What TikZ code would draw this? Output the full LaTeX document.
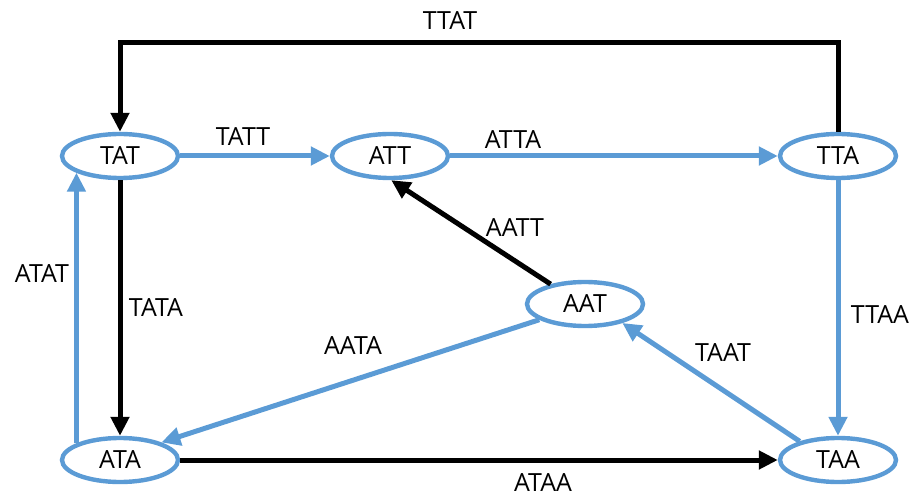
\documentclass[tikz,border=0pt]{standalone}
\usepackage{fontspec}
\setmainfont{Open Sans}
\usetikzlibrary{arrows.meta,shapes.geometric}
\definecolor{stateblue}{HTML}{5B9BD5}
\tikzset{
  state/.style={ellipse,draw=stateblue,line width=2.2pt,fill=white,
    minimum width=58pt,minimum height=22pt,inner sep=0pt,
    font=\fontsize{12.5}{15}\selectfont},
  edge/.style={line width=2.5pt,-{Triangle[length=9.5pt,width=9pt]}},
  bedge/.style={edge,draw=stateblue},
  kedge/.style={edge,draw=black},
  lbl/.style={inner sep=0pt,font=\fontsize{12.5}{15}\selectfont}
}

\begin{document}
\begin{tikzpicture}[x=0.5pt,y=-0.5pt]
                \useasboundingbox (0,0) rectangle (909,496);
                % states
                \node [state] (TAT) at (120,156) {TAT};
                \node [state] (ATT) at (390,156) {ATT};
                \node [state] (TTA) at (838,156) {TTA};
                \node [state] (AAT) at (585,304) {AAT};
                \node [state] (ATA) at (120,460) {ATA};
                \node [state] (TAA) at (838,460) {TAA};
                \coordinate (top) at (0,43);
                % transitions
                \draw [kedge] (TTA.north) -- (TTA.north |- top) -| (TAT.north);
                \draw [bedge] (TAT) -- (ATT);
                \draw [bedge] (ATT) -- (TTA);
                \draw [kedge] (TAT) -- (ATA);
                \draw [bedge] (ATA.159) -- (TAT.201);
                \draw [bedge] (TTA) -- (TAA);
                \draw [kedge] (ATA) -- (TAA);
                \draw [kedge] (AAT.150) -- (ATT.-87);
                \draw [bedge] (AAT.199) -- (ATA.23);
                \draw [bedge] (TAA.154) -- (AAT.-27);
                % edge labels
                \node [lbl] (lTTAT) at (450,21) {TTAT};
                \node [lbl] (lTATT) at (243,137) {TATT};
                \node [lbl] (lATTA) at (513,140) {ATTA};
                \node [lbl] (lATAT) at (42,274) {ATAT};
                \node [lbl] (lTATA) at (156,308) {TATA};
                \node [lbl] (lAATT) at (515,228) {AATT};
                \node [lbl] (lAATA) at (353,346) {AATA};
                \node [lbl] (lTAAT) at (723,353) {TAAT};
                \node [lbl] (lTTAA) at (880,315) {TTAA};
                \node [lbl] (lATAA) at (543,483) {ATAA};
            \end{tikzpicture}
\end{document}
